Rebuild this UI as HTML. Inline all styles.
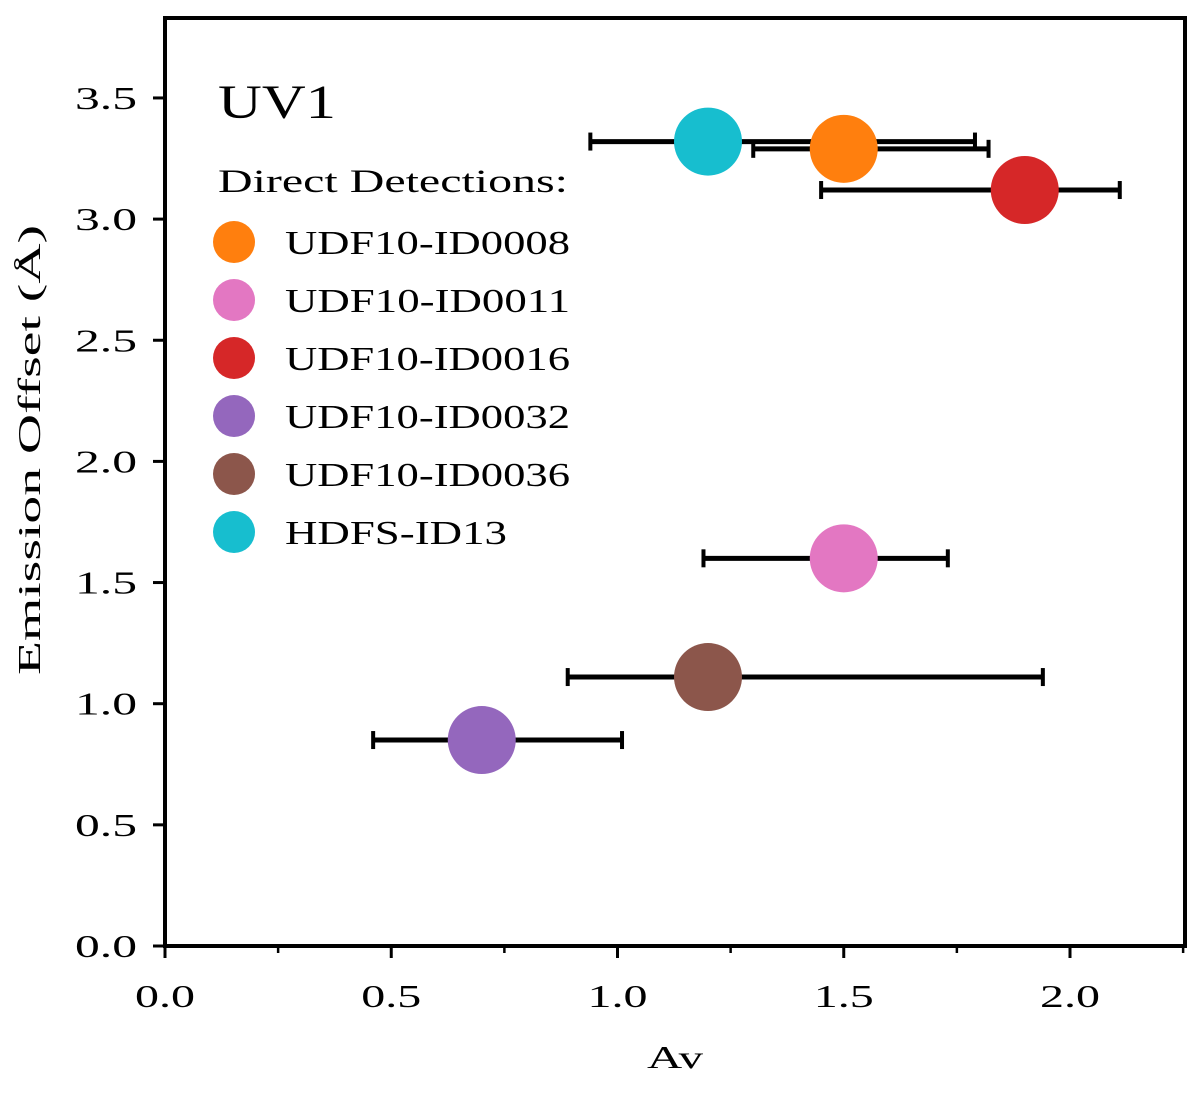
<!DOCTYPE html>
<html><head><meta charset="utf-8"><style>
body{margin:0;background:#fff}
svg text{font-family:"Liberation Serif",serif;fill:#000}
</style></head><body>
<svg id="chart" width="1200" height="1104" xmlns="http://www.w3.org/2000/svg">
<g id="marks"></g>
<rect x="165" y="18" width="1020" height="928" fill="none" stroke="#000" stroke-width="4"/>
<g id="axes"></g>
<text x="675" y="1068" font-size="32" text-anchor="middle" textLength="56" lengthAdjust="spacingAndGlyphs">Av</text>
<text transform="translate(40,450) rotate(-90)" font-size="32" text-anchor="middle" textLength="450" lengthAdjust="spacingAndGlyphs">Emission Offset (Å)</text>
<text x="218" y="118" font-size="48" textLength="118" lengthAdjust="spacingAndGlyphs">UV1</text>
<text x="218" y="192" font-size="33" textLength="350" lengthAdjust="spacingAndGlyphs">Direct Detections:</text>
<g id="legend"></g>
</svg>
<script>
const names=["UDF10-ID0008","UDF10-ID0011","UDF10-ID0016","UDF10-ID0032","UDF10-ID0036","HDFS-ID13"];
const colors=["#ff7f0e","#e377c2","#d62728","#9467bd","#8c564b","#17becf"];
const avValues=[1.5,1.5,1.9,0.7,1.2,1.2];
const offsetValues=[3.29,1.6,3.12,0.85,1.11,3.32];
const errLow=[1.30,1.19,1.45,0.46,0.89,0.94];
const errHigh=[1.82,1.73,2.11,1.01,1.94,1.79];
const xTicks=[0,0.5,1.0,1.5,2.0];
const xTickLabels=["0.0","0.5","1.0","1.5","2.0"];
const yTicks=[0,0.5,1,1.5,2,2.5,3,3.5];
const yTickLabels=["0.0","0.5","1.0","1.5","2.0","2.5","3.0","3.5"];
const NS="http://www.w3.org/2000/svg";
const X=v=>165+v*452.5, Y=v=>946-v*242.3;
function mk(tag,attrs,parent){const e=document.createElementNS(NS,tag);for(const k in attrs)e.setAttribute(k,attrs[k]);parent.appendChild(e);return e;}
const axes=document.getElementById('axes'),marks=document.getElementById('marks'),leg=document.getElementById('legend');
xTicks.forEach((t,i)=>{
 const l=mk('line',{x1:X(t),x2:X(t),y1:946,y2:958,stroke:'#000','stroke-width':3},axes);
 
 
 const tx=mk('text',{x:X(t),y:1007,'font-size':32,'text-anchor':'middle',textLength:60,lengthAdjust:'spacingAndGlyphs'},axes);tx.textContent=xTickLabels[i];
 
 
 const m=t+0.25;
 if(X(m)<1185){const ml=mk('line',{x1:X(m),x2:X(m),y1:946,y2:953,stroke:'#000','stroke-width':2.5},axes);
 
 }
});
yTicks.forEach((t,i)=>{
 const l=mk('line',{x1:153,x2:165,y1:Y(t),y2:Y(t),stroke:'#000','stroke-width':3},axes);
 
 
 const tx=mk('text',{x:137,y:Y(t)+11,'font-size':32,'text-anchor':'end',textLength:62,lengthAdjust:'spacingAndGlyphs'},axes);tx.textContent=yTickLabels[i];
 
 
});
names.forEach((n,i)=>{
 const y=Y(offsetValues[i]);
 const g=mk('g',{},marks);
 
 
 mk('line',{x1:X(errLow[i]),x2:X(errHigh[i]),y1:y,y2:y,stroke:'#000','stroke-width':5},g);
 mk('line',{x1:X(errLow[i]),x2:X(errLow[i]),y1:y-9,y2:y+9,stroke:'#000','stroke-width':4},g);
 mk('line',{x1:X(errHigh[i]),x2:X(errHigh[i]),y1:y-9,y2:y+9,stroke:'#000','stroke-width':4},g);
});
names.forEach((n,i)=>{
 const c=mk('circle',{cx:X(avValues[i]),cy:Y(offsetValues[i]),r:34,fill:colors[i]},marks);
 
 
 const ly=242+i*58;
 const g=mk('g',{},leg);
 
 
 mk('circle',{cx:234,cy:ly,r:21,fill:colors[i]},g);
 const t=mk('text',{x:285,y:ly+12,'font-size':34,textLength:(n.length===9?222:285),lengthAdjust:'spacingAndGlyphs'},g);t.textContent=n;
});
</script>
</body></html>
